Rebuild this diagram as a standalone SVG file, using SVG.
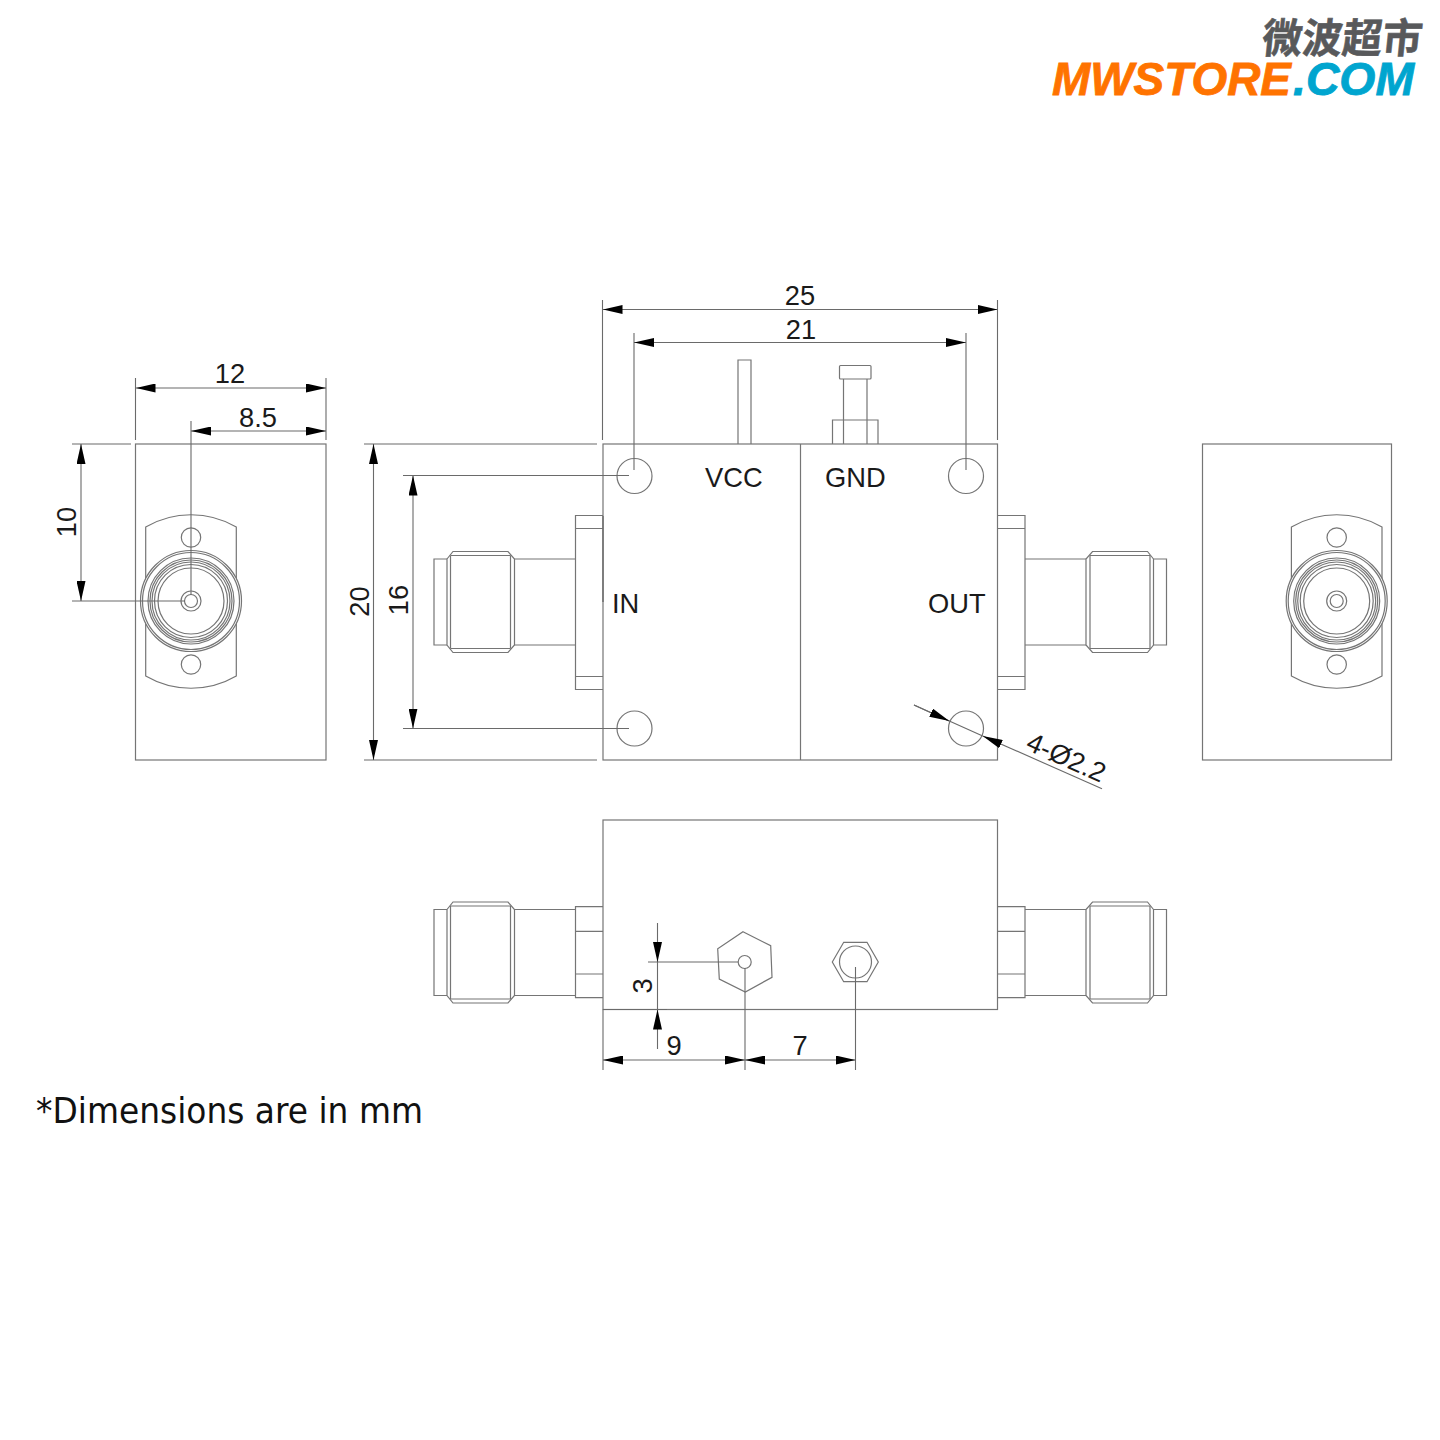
<svg xmlns="http://www.w3.org/2000/svg" xmlns:xlink="http://www.w3.org/1999/xlink" width="1440" height="1440" viewBox="0 0 1440 1440">
<style>
.l{fill:none;stroke:#757575;stroke-width:1.2}
.d{fill:none;stroke:#6a6a6a;stroke-width:1.1}
.a{marker-end:url(#arr)}
.ab{marker-start:url(#arr);marker-end:url(#arr)}
text{font-family:"Liberation Sans",Arial,sans-serif;font-size:27.300px;fill:#1a1a1a}
.m{text-anchor:middle}
</style>
<defs>
<marker id="arr" markerUnits="userSpaceOnUse" markerWidth="20" markerHeight="9" viewBox="0 0 20 9" refX="20" refY="4.500" orient="auto-start-reverse"><path d="M0 0L20 4.500L0 9z" fill="#000"/></marker>
<g id="sma" class="l">
<path d="M447 -43H434V43H447"/>
<path d="M447 -43L453 -50.500H508L514.500 -43V43L508 50.500H453L447 43Z"/>
<path d="M450.500 -46.500V46.500M510.500 -46.500V46.500M450.500 -46.500H510.500M450.500 46.500H510.500M514.500 -43H575.500M514.500 43H575.500"/>
</g>
<g id="endview" class="l">
<path d="M-45.300 -74V75L-45.300 75A90 90 0 0 0 45.300 75V-74A90 90 0 0 0 -45.300 -74Z"/>
<circle cy="-63.500" r="9.700"/><circle cy="63.500" r="9.700"/>
<circle r="50.500" fill="#fff"/><circle r="48.500"/><circle r="43"/><circle r="41"/><circle r="39"/><circle r="36.500"/><circle r="33"/><circle r="10"/><circle r="6.500"/>
</g>
</defs>
<g id="logo">
<text x="0" y="0" textLength="160" lengthAdjust="spacingAndGlyphs" transform="translate(1261 53) skewX(-6)" style="font-family:'Noto Sans CJK SC','Liberation Sans',sans-serif;font-size:41px;font-weight:700;fill:#58595b;stroke:#58595b;stroke-width:.6">微波超市</text>
<text x="1052" y="94.500" textLength="239" lengthAdjust="spacingAndGlyphs" style="font-size:46px;font-weight:700;font-style:italic;fill:#ff7300;stroke:#ff7300;stroke-width:.8">MWSTORE</text>
<text x="1293" y="94.500" textLength="121" lengthAdjust="spacingAndGlyphs" style="font-size:46px;font-weight:700;font-style:italic;fill:#00a5cf;stroke:#00a5cf;stroke-width:.8">.COM</text>
</g>
<g id="view-left">
<rect class="l" x="135.500" y="444" width="190.500" height="316"/>
<use xlink:href="#endview" href="#endview" transform="translate(191 601)"/>
</g>
<g id="view-right">
<rect class="l" x="1202.500" y="444" width="189" height="316"/>
<use xlink:href="#endview" href="#endview" transform="translate(1336.700 601)"/>
</g>
<g id="conn-in">
<use xlink:href="#sma" href="#sma" transform="translate(0 602)"/>
<path class="l" d="M603 515.500H575.500V689.500H603M575.500 528.500H603M575.500 676.500H603"/>
<path d="M603 516V602" fill="none" stroke="#666" stroke-width="1.500"/>
</g>
<g id="conn-out">
<use xlink:href="#sma" href="#sma" transform="matrix(-1 0 0 1 1600.500 602)"/>
<path class="l" d="M997.500 515.500H1025V689.500H997.500M997.500 528.500H1025M997.500 676.500H1025"/>
</g>
<g id="body-top">
<rect class="l" x="603" y="444" width="394.500" height="316"/>
<path class="l" d="M800.500 444V760"/>
<circle class="l" cx="634.500" cy="476" r="17.500"/>
<circle class="l" cx="966" cy="476" r="17.500"/>
<circle class="l" cx="634.500" cy="728.500" r="17.500"/>
<circle class="l" cx="966" cy="728.500" r="17.500"/>
<text x="705" y="487">VCC</text>
<text x="825" y="487">GND</text>
<text x="612" y="613">IN</text>
<text x="928" y="613">OUT</text>
</g>
<g id="pin-vcc"><path class="l" d="M738 444V360H751V444"/></g>
<g id="pin-gnd"><path class="l" d="M843.500 444V379M867 444V379M832.500 444V420H878V444M832.500 420H878"/><rect class="l" x="839.500" y="365.500" width="31.500" height="13.500" rx="1"/></g>
<g id="body-bottom">
<rect class="l" x="603" y="820" width="394.500" height="189.500"/>
<path class="l" d="M743 931.700L770.700 945.700L772 977.300L745.300 992L719.300 979L717.700 948.700Z"/>
<circle class="l" cx="744.700" cy="962" r="6.500"/>
<path class="l" d="M832.300 962L843.700 942.300H867L878.300 962L867 981.700H843.700Z"/>
<circle class="l" cx="855.500" cy="962" r="16"/>
</g>
<g id="conn-bottom-in">
<use xlink:href="#sma" href="#sma" transform="translate(0 952.500)"/>
<path class="l" d="M603 906.700H575.500V997.700H603M575.500 931.300H603M575.500 974H603"/>
</g>
<g id="conn-bottom-out">
<use xlink:href="#sma" href="#sma" transform="matrix(-1 0 0 1 1600.500 952.500)"/>
<path class="l" d="M997.500 906.700H1025V997.700H997.500M997.500 931.300H1025M997.500 974H1025"/>
</g>
<g id="connectors">
<path class="d" d="M602.500 300V440M997.500 300V440M634 333V470M966 333V470"/>
<path class="d ab" d="M602.500 309.500H997.500"/>
<path class="d ab" d="M634 342.500H966"/>
<path class="d" d="M135.500 378V440M326 378V440M191 421V595"/>
<path class="d ab" d="M135.500 388H326"/>
<path class="d ab" d="M191 431H326"/>
<path class="d" d="M72 444H131M72 601H185"/>
<path class="d ab" d="M81 444V601"/>
<path class="d" d="M364 444H597M364 760H597M403 475.500H629M403 728.500H629"/>
<path class="d ab" d="M373.500 444V760"/>
<path class="d ab" d="M413 475.500V728.500"/>
<path class="d" d="M914 705L949.300 721L982.700 736"/>
<path class="d a" d="M914 705L949.300 721"/>
<path class="d a" d="M1102 788.700L982.700 736"/>
<path class="d" d="M648 962H738M603 1009.500H667M603 1009.500V1070M745 968V1070M855.500 967V1070M657.500 962V1009.500"/>
<path class="d a" d="M657.500 923V962"/>
<path class="d a" d="M657.500 1049V1009.500"/>
<path class="d ab" d="M603 1060H745"/>
<path class="d ab" d="M745 1060H855.500"/>
</g>
<g id="labels">
<text class="m" x="800" y="305">25</text>
<text class="m" x="801" y="339">21</text>
<text class="m" x="230" y="383">12</text>
<text class="m" x="258" y="427">8.5</text>
<text class="m" transform="translate(76 522) rotate(-90)">10</text>
<text class="m" transform="translate(369 601.500) rotate(-90)">20</text>
<text class="m" transform="translate(408 600) rotate(-90)">16</text>
<text class="m" transform="translate(651.500 986) rotate(-90)">3</text>
<text class="m" x="674" y="1055">9</text>
<text class="m" x="800" y="1055">7</text>
<text transform="translate(1024.500 749) rotate(24)">4-Ø2.2</text>
<text x="36" y="1122.500" textLength="387" lengthAdjust="spacingAndGlyphs" style="font-family:'DejaVu Sans',sans-serif;font-size:35px;fill:#111">*Dimensions are in mm</text>
</g>
</svg>
